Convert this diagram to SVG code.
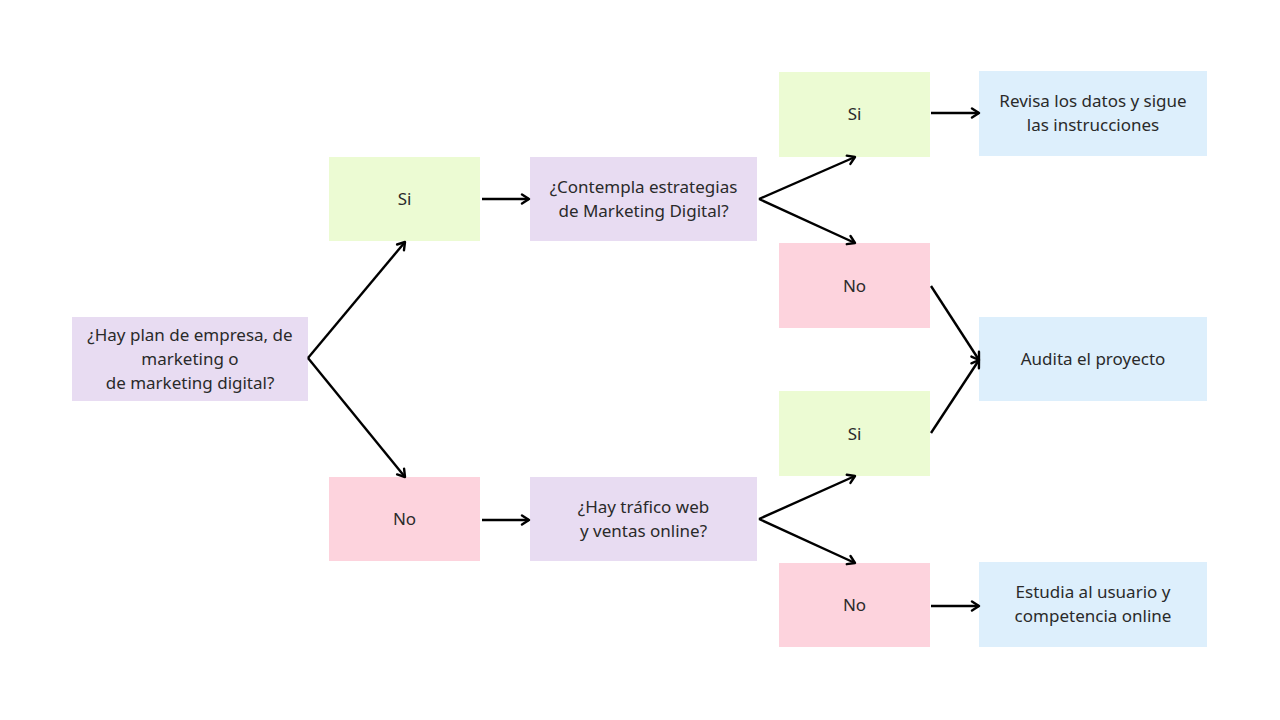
<svg xmlns="http://www.w3.org/2000/svg" width="1280" height="720" viewBox="0 0 1280 720">
<defs>
<marker id="ah" viewBox="0 0 12 12" refX="10" refY="6" markerWidth="12" markerHeight="12" markerUnits="userSpaceOnUse" orient="auto">
<path d="M3,1.5 L10,6 L3,10.5" fill="none" stroke="#000" stroke-width="2.4" stroke-linecap="round" stroke-linejoin="round"/>
</marker>
<style>
.q{fill:#e8dcf2}
.y{fill:#ecfbd3}
.n{fill:#fdd3dd}
.r{fill:#ddeffc}
text{font-family:"Noto Sans","Liberation Sans",sans-serif;font-size:17px;fill:#2a2a2a;text-anchor:middle}
.c{fill:none;stroke:#000;stroke-width:2.4;marker-end:url(#ah)}
</style>
</defs>
<rect width="1280" height="720" fill="#fff"/>
<g id="q1"><rect class="q" x="72" y="317" width="236" height="84"/><text x="190" y="341">¿Hay plan de empresa, de</text><text x="190" y="365">marketing o</text><text x="190" y="389">de marketing digital?</text></g>
<g id="si1"><rect class="y" x="329" y="157" width="151" height="84"/><text x="404.5" y="205">Si</text></g>
<g id="no1"><rect class="n" x="329" y="477" width="151" height="84"/><text x="404.5" y="525">No</text></g>
<g id="q2"><rect class="q" x="530" y="157" width="227" height="84"/><text x="643.5" y="193">¿Contempla estrategias</text><text x="643.5" y="217">de Marketing Digital?</text></g>
<g id="q3"><rect class="q" x="530" y="477" width="227" height="84"/><text x="643.5" y="513">¿Hay tráfico web</text><text x="643.5" y="537">y ventas online?</text></g>
<g id="si2"><rect class="y" x="779" y="72" width="151" height="85"/><text x="854.5" y="120">Si</text></g>
<g id="no2"><rect class="n" x="779" y="243" width="151" height="85"/><text x="854.5" y="292">No</text></g>
<g id="si3"><rect class="y" x="779" y="391" width="151" height="85"/><text x="854.5" y="440">Si</text></g>
<g id="no3"><rect class="n" x="779" y="563" width="151" height="84"/><text x="854.5" y="611">No</text></g>
<g id="r1"><rect class="r" x="979" y="71" width="228" height="85"/><text x="1093" y="107">Revisa los datos y sigue</text><text x="1093" y="131">las instrucciones</text></g>
<g id="r2"><rect class="r" x="979" y="317" width="228" height="84"/><text x="1093" y="365">Audita el proyecto</text></g>
<g id="r3"><rect class="r" x="979" y="562" width="228" height="85"/><text x="1093" y="598">Estudia al usuario y</text><text x="1093" y="622">competencia online</text></g>
<g id="connectors">
<line class="c" x1="308" y1="358" x2="405" y2="242"/>
<line class="c" x1="308" y1="358" x2="405" y2="477"/>
<line class="c" x1="482" y1="199" x2="529" y2="199"/>
<line class="c" x1="482" y1="520" x2="529" y2="520"/>
<line class="c" x1="759" y1="199" x2="855" y2="157"/>
<line class="c" x1="759" y1="199" x2="855" y2="243"/>
<line class="c" x1="759" y1="519" x2="855" y2="476"/>
<line class="c" x1="759" y1="519" x2="855" y2="563"/>
<line class="c" x1="931" y1="113" x2="979" y2="113"/>
<line class="c" x1="931" y1="286" x2="979" y2="360"/>
<line class="c" x1="931" y1="433" x2="979" y2="360"/>
<line class="c" x1="931" y1="606" x2="979" y2="606"/>
</g>
</svg>
